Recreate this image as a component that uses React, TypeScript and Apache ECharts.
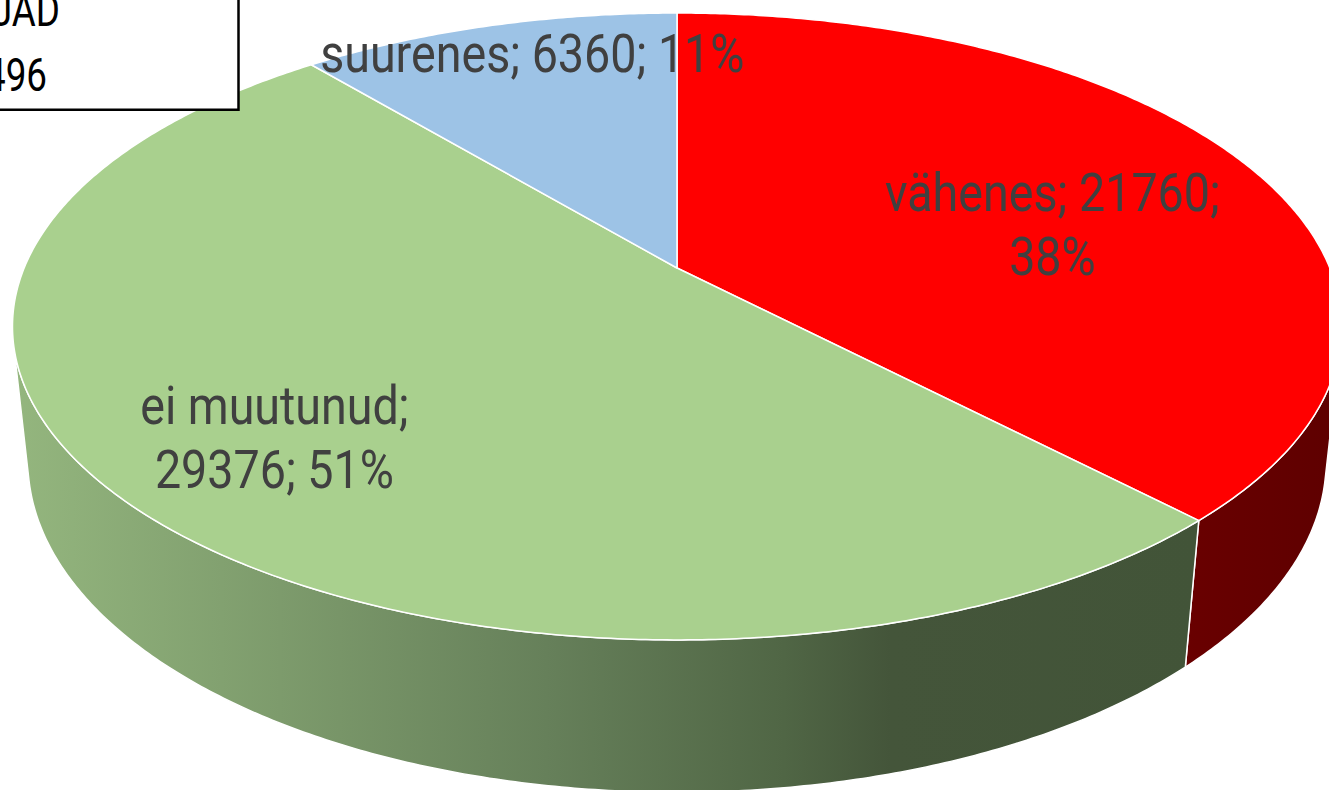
import React, { useEffect, useRef } from "react";
import * as echarts from "echarts";

// ---- data ----
const categories = ["vähenes", "ei muutunud", "suurenes"];
const values = [21760, 29376, 6360];
const topColors = ["#FF0000", "#A9D08E", "#9DC3E6"];
const sideStops: [number, string][][] = [
  [[0, "#690000"], [1, "#5E0000"]],
  [[0, "#94B67E"], [0.45, "#66805A"], [0.65, "#506645"], [0.74, "#44553A"], [1, "#425438"]],
  [[0, "#7DA2C4"], [1, "#4F6F8C"]],
];
const boxTitle = "VASTAJAD";

// ---- label layout (not data) ----
const LABEL_SEPS = [["; ", ";\n"], [";\n", "; "], ["; ", "; "]];
const LABEL_R = 0.6;
const LABEL_OFFSET = [[26.5, 21.5], [-87, 39.5], [-24, -59.6]];

// ---- 3D projection layout ----
const CX = 677, CY = 268, F = 3101, D = 4.75, SIN = 0.4634;
const COS = Math.sqrt(1 - SIN * SIN);
const H = 0.235;
const VS = 1 / (D * COS);
const SIL1 = (Math.acos(-VS) * 180) / Math.PI;
const SIL2 = 360 - SIL1;

const total = values.reduce((a, b) => a + b, 0);
const startAngles = values.map((_, i) => (values.slice(0, i).reduce((a, b) => a + b, 0) / total) * 360);

function project(r: number, phiDeg: number, Y: number): number[] {
  const phi = (phiDeg * Math.PI) / 180;
  const u = r * Math.sin(phi);
  const v = -r * Math.cos(phi);
  const d = D - Y * SIN - v * COS;
  return [CX + (F * u) / d, CY - (F * (Y * COS - v * SIN)) / d];
}

function arc(a: number, b: number, Y: number): number[][] {
  const n = Math.max(2, Math.ceil((b - a) / 0.5));
  const pts: number[][] = [];
  for (let k = 0; k <= n; k++) pts.push(project(1, a + ((b - a) * k) / n, Y));
  return pts;
}

export default function App() {
  const ref = useRef<HTMLDivElement>(null);
  useEffect(() => {
    document.body.style.margin = "0";
    document.body.style.overflow = "hidden";
    const chart = echarts.init(ref.current!, undefined, { renderer: "svg" });
    const data = values.map((v, i) => ({ name: categories[i], value: [v] }));
    chart.setOption({
      animation: false,
      backgroundColor: "#ffffff",
      series: [
        {
          type: "custom",
          coordinateSystem: "none",
          silent: true,
          z: 2,
          data,
          renderItem: (params: any, api: any) => {
            const i = params.dataIndex;
            const v = api.value(0);
            const a0 = startAngles[i];
            const a1 = a0 + (v / total) * 360;
            const a = Math.max(a0, SIL1);
            const b = Math.min(a1, SIL2);
            if (b <= a) return { type: "group", children: [] };
            const pts = arc(a, b, 0).concat(arc(a, b, -H).reverse());
            return {
              type: "polygon",
              shape: { points: pts },
              style: {
                fill: {
                  type: "linear", x: 0, y: 0, x2: 1, y2: 0,
                  colorStops: sideStops[i].map(([o, c]) => ({ offset: o, color: c })),
                },
                stroke: "#ffffff",
                lineWidth: 1.5,
                lineJoin: "round",
              },
            };
          },
        },
        {
          type: "custom",
          coordinateSystem: "none",
          silent: true,
          z: 3,
          data,
          renderItem: (params: any, api: any) => {
            const i = params.dataIndex;
            const v = api.value(0);
            const a0 = startAngles[i];
            const a1 = a0 + (v / total) * 360;
            const pts = [project(0, 0, 0)].concat(arc(a0, a1, 0));
            const mid = (a0 + a1) / 2;
            const p = project(LABEL_R, mid, 0);
            const pct = Math.round((v / total) * 100);
            const text = categories[i] + LABEL_SEPS[i][0] + v + LABEL_SEPS[i][1] + pct + "%";
            return {
              type: "group",
              children: [
                {
                  type: "polygon",
                  shape: { points: pts },
                  style: { fill: topColors[i], stroke: "#ffffff", lineWidth: 1.5, lineJoin: "round" },
                },
                {
                  type: "text",
                  x: p[0] + LABEL_OFFSET[i][0],
                  y: p[1] + LABEL_OFFSET[i][1],
                  scaleX: 0.88,
                  z2: 10,
                  style: {
                    text,
                    x: 0,
                    y: 0,
                    align: "center",
                    verticalAlign: "middle",
                    fontSize: 53,
                    lineHeight: 64,
                    fontFamily: "Roboto",
                    fill: "#404040",
                  },
                },
              ],
            };
          },
        },
      ],
      graphic: [
        {
          type: "rect",
          z: 100,
          shape: { x: -10, y: -10, width: 248.5, height: 119.7 },
          style: { fill: "#ffffff", stroke: "#000000", lineWidth: 2.5 },
        },
        {
          type: "text",
          z: 101,
          x: 60,
          y: 10,
          scaleX: 0.8,
          style: { text: boxTitle, x: 0, y: 0, align: "right", verticalAlign: "middle", fontSize: 46, fontFamily: "Roboto", fill: "#000000" },
        },
        {
          type: "text",
          z: 101,
          x: 47,
          y: 74.5,
          scaleX: 0.8,
          style: { text: String(total), x: 0, y: 0, align: "right", verticalAlign: "middle", fontSize: 46, fontFamily: "Roboto", fill: "#000000" },
        },
      ],
    });
    return () => chart.dispose();
  }, []);
  return <div ref={ref} style={{ width: 1329, height: 790, background: "#fff" }} />;
}
